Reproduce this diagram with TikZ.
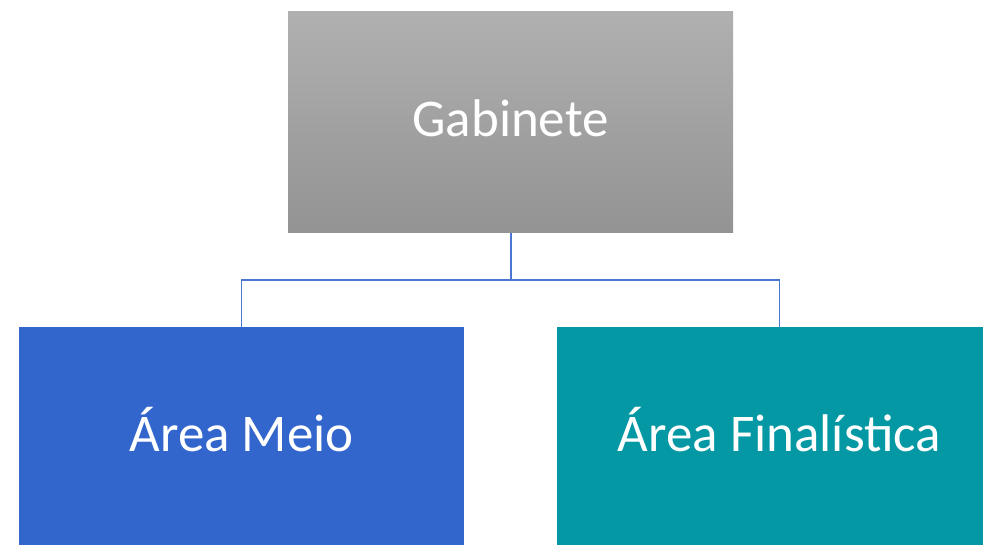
\documentclass[tikz,border=0pt]{standalone}
\usepackage{fontspec}
\setmainfont{Carlito}
\definecolor{boxblue}{HTML}{3366CC}
\definecolor{boxteal}{HTML}{0498A4}
\definecolor{graytop}{HTML}{B0B0B0}
\definecolor{graybot}{HTML}{939393}
\definecolor{linkblue}{HTML}{4A78D0}
\begin{document}
\begin{tikzpicture}[x=1pt,y=-1pt,
  orgbox/.style={rectangle, inner sep=0pt, minimum width=445pt, minimum height=221pt,
    text height=28pt, text depth=0pt,
    text=white, font=\fontsize{53}{62}\selectfont},
  link/.style={draw=linkblue, line width=1.2pt}]
\useasboundingbox (0,0) rectangle (983,545);
\node[orgbox, top color=graytop, bottom color=graybot] (gab) at (510.5,122.5) {Gabinete};
\node[orgbox, fill=boxblue] (meio) at (241.5,437.5) {Área Meio};
\node[orgbox, fill=boxteal] (fin) at (779.5,437.5) {Área Finalística};
\coordinate (mid) at (511,280);
\draw[link] (gab.south -| mid) -- (mid) -| (meio.north);
\draw[link] (mid) -| (fin.north);
\end{tikzpicture}
\end{document}
